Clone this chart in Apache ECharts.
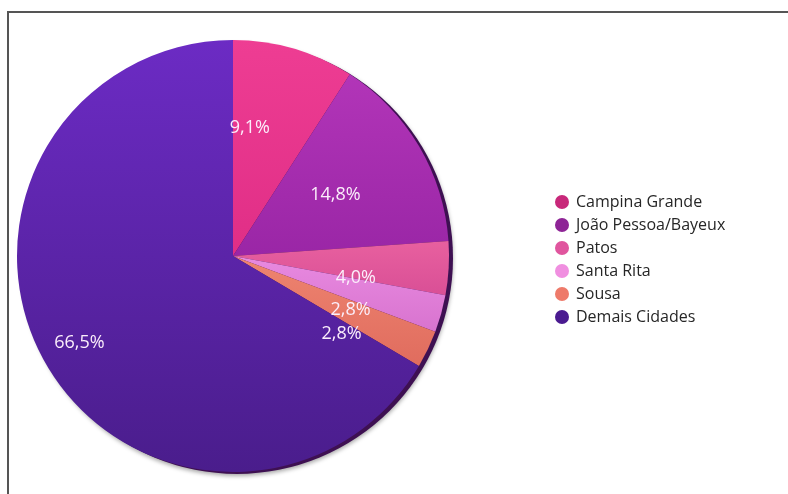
<!DOCTYPE html>
<html>
<head>
<meta charset="utf-8">
<script src="https://cdn.jsdelivr.net/npm/echarts@6/dist/echarts.min.js"></script>
<style>
  html, body { margin: 0; padding: 0; background: #fff; }
  #chart { width: 788px; height: 494px; }
</style>
</head>
<body>
<div id="chart"></div>
<script>
// Share of each city (%)
const categories = ['Campina Grande', 'João Pessoa/Bayeux', 'Patos', 'Santa Rita', 'Sousa', 'Demais Cidades'];
const shares = [9.1, 14.8, 4.0, 2.8, 2.8, 66.5];

// Slice shading: [light, dark] and the swatch used in the legend
const sliceShades = [
  ['#ee3d93', '#e02e86'],
  ['#b235b8', '#9a26a6'],
  ['#e8609f', '#d94f96'],
  ['#e88ae0', '#d873cf'],
  ['#ee8470', '#e06c5e'],
  ['#6c2bc4', '#4a1d8c']
];
const legendColors = ['#c8287a', '#8e2496', '#e0559e', '#f08fe0', '#ee7a6a', '#4a1a90'];

const fmt = v => v.toFixed(1).replace('.', ',') + '%';

const sliceData = categories.map((name, i) => ({
  name,
  value: shares[i],
  itemStyle: {
    color: new echarts.graphic.LinearGradient(0, 0, 0, 1, [
      { offset: 0, color: sliceShades[i][0] },
      { offset: 1, color: sliceShades[i][1] }
    ])
  }
}));

const chart = echarts.init(document.getElementById('chart'), null, { renderer: 'canvas' });

chart.setOption({
  animation: false,
  backgroundColor: '#ffffff',
  graphic: [{
    type: 'rect',
    shape: { x: 8, y: 12, width: 800, height: 500 },
    style: { fill: 'none', stroke: '#555555', lineWidth: 2 },
    z: 0
  }],
  legend: {
    orient: 'vertical',
    left: 550,
    top: 189,
    itemGap: 7,
    itemWidth: 14,
    itemHeight: 16,
    icon: 'circle',
    textStyle: { fontFamily: 'Open Sans', fontSize: 16, color: '#262626', padding: [0, 0, 0, 2] },
    data: categories.map((name, i) => ({ name, itemStyle: { color: legendColors[i] } }))
  },
  series: [
    {
      // dark rim giving the disc its raised edge
      type: 'pie',
      silent: true,
      center: [237, 258],
      radius: [0, 216],
      startAngle: 90,
      label: { show: false },
      labelLine: { show: false },
      itemStyle: { color: '#3e1052', shadowBlur: 4, shadowColor: 'rgba(0,0,0,0.35)', shadowOffsetY: 2 },
      data: [{ name: 'rim', value: 1 }],
      z: 1
    },
    {
      type: 'pie',
      name: 'Cidades',
      center: [233, 256],
      radius: [0, 216],
      startAngle: 90,
      clockwise: true,
      label: { show: false },
      labelLine: { show: false },
      data: sliceData,
      z: 2
    },
    {
      // percentage labels
      type: 'pie',
      silent: true,
      center: [208, 270],
      radius: [0, 290],
      startAngle: 90,
      clockwise: true,
      legendHoverLink: false,
      itemStyle: { color: 'rgba(0,0,0,0)' },
      label: {
        show: true,
        position: 'inside',
        formatter: p => fmt(p.value),
        color: '#fbeefb',
        fontFamily: 'Open Sans',
        fontSize: 18
      },
      labelLine: { show: false },
      data: categories.map((name, i) => ({ name, value: shares[i] })),
      z: 3
    }
  ]
});
</script>
</body>
</html>
